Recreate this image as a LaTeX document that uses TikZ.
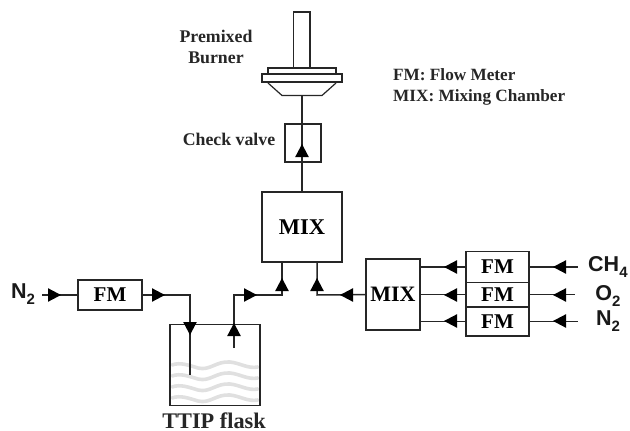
\documentclass[tikz,border=0pt]{standalone}
\usepackage{fontspec}
\setmainfont{Liberation Serif}
\newfontfamily\labsans{Liberation Sans}
\usetikzlibrary{calc}
\tikzset{
  box/.style={draw=black!85,line width=1.3pt,minimum width=#1,inner sep=0pt,outer sep=0pt,font=\bfseries},
  wire/.style={draw=black!85,line width=1.5pt},
  wave/.style={draw=black!12,line width=3.6pt,line cap=round},
  lab/.style={font=\bfseries\fontsize{17.8}{20}\selectfont,inner sep=0pt,text=black!85},
  gas/.style={font=\labsans\bfseries\fontsize{21.5}{24}\selectfont,inner sep=0pt,text=black!90},
  burn/.style={draw=black!85,line width=1.2pt,fill=white}
}
\newcommand{\headat}[3]{\fill[black,shift={(#1,#2)},rotate=#3] (7,0) -- (-6,6.8) -- (-6,-6.8) -- cycle;}
\newcommand{\subtwo}[1]{\raisebox{-0.28em}{\fontsize{15}{16}\selectfont #1}}
\begin{document}
\begin{tikzpicture}[x=1pt,y=-1pt]
\useasboundingbox (0,0) rectangle (630,431);
% flask liquid
\begin{scope}
\clip (170,325) rectangle (260,405);
\foreach \yy in {365,376,387,398}{
  \draw[wave] (172,\yy) .. controls (180,\yy-3) and (188,\yy) .. (198,\yy+3)
     .. controls (210,\yy+6) and (216,\yy-4) .. (230,\yy-3)
     .. controls (240,\yy-2) and (248,\yy+4) .. (258,\yy+2);
}
\end{scope}
% boxes
\node[box=90pt,minimum height=81pt] (flask) at (215,365) {};
\node[box=80pt,minimum height=70pt,font=\bfseries\fontsize{22.5}{24}\selectfont] (mixa) at (302,227) {MIX};
\node[box=36pt,minimum height=38pt] (valve) at (303,143) {};
\node[box=64pt,minimum height=30pt,font=\bfseries\fontsize{21}{23}\selectfont] (fmn) at (110,295) {FM};
\node[box=54pt,minimum height=71pt,font=\bfseries\fontsize{22}{24}\selectfont] (mixb) at (393,294.5) {MIX};
\node[box=63pt,minimum height=30.5pt,font=\bfseries\fontsize{21}{23}\selectfont] (fm1) at (497.5,267) {FM};
\node[box=63pt,minimum height=24.5pt,font=\bfseries\fontsize{21}{23}\selectfont] (fm2) at (497.5,294.5) {FM};
\node[box=63pt,minimum height=29pt,font=\bfseries\fontsize{21}{23}\selectfont] (fm3) at (497.5,321.5) {FM};
% burner
\draw[burn] (293.5,12) rectangle (310,68);
\draw[burn] (268,68) rectangle (336,74);
\draw[burn] (262,74) rectangle (342,82);
\draw[burn] (268,83) -- (282,95.5) -- (322,95.5) -- (336,83);
% labels
\node[lab] (premix) at (216,36) {Premixed};
\node[lab] (burner) at (216,58) {Burner};
\node[lab] (check) at (229,139) {Check valve};
\node[lab,anchor=west,font=\bfseries\fontsize{17.2}{20}\selectfont] (leg1) at (393,75) {FM: Flow Meter};
\node[lab,anchor=west,font=\bfseries\fontsize{17.2}{20}\selectfont] (leg2) at (393,97) {MIX: Mixing Chamber};
\node[lab,font=\bfseries\fontsize{22.3}{24}\selectfont] (ttip) at (214,421) {TTIP flask};
\node[gas] (n2a) at (23,294) {N\subtwo{2}};
\node[gas,anchor=west] (ch4) at (588,267) {CH\subtwo{4}};
\node[gas] (o2) at (608,296) {O\subtwo{2}};
\node[gas] (n2b) at (608,321) {N\subtwo{2}};
% free ends and bends
\coordinate (burnb) at (302,95.5);
\coordinate (in) at (190,375);
\coordinate (out) at (234,348);
\coordinate (aa) at (282,295);
\coordinate (bb) at (317,295);
% connectors
\draw[wire] (burnb) -- (302,192);
\draw[wire] (42,295) -- (fmn.west);
\draw[wire] (fmn.east) -| (in);
\draw[wire] (out) |- (aa) -- (282,262);
\draw[wire] (mixb.west) -- (bb) -- (317,262);
\draw[wire] (mixb.east |- fm1.west) -- (fm1.west);
\draw[wire] (mixb.east |- fm2.west) -- (fm2.west);
\draw[wire] (mixb.east |- fm3.west) -- (fm3.west);
\draw[wire] (fm1.east) -- ++(49,0);
\draw[wire] (fm2.east) -- ++(46,0);
\draw[wire] (fm3.east) -- ++(49,0);
% arrowheads
\headat{302}{151}{90}
\headat{54}{295}{0}
\headat{158}{295}{0}
\headat{190}{328}{-90}
\headat{234}{330}{90}
\headat{250}{295}{0}
\headat{282}{285}{90}
\headat{317}{285}{90}
\headat{347}{295}{180}
\headat{451}{267}{180}
\headat{451}{295}{180}
\headat{451}{321}{180}
\headat{560}{267}{180}
\headat{560}{295}{180}
\headat{560}{321}{180}
\end{tikzpicture}
\end{document}
